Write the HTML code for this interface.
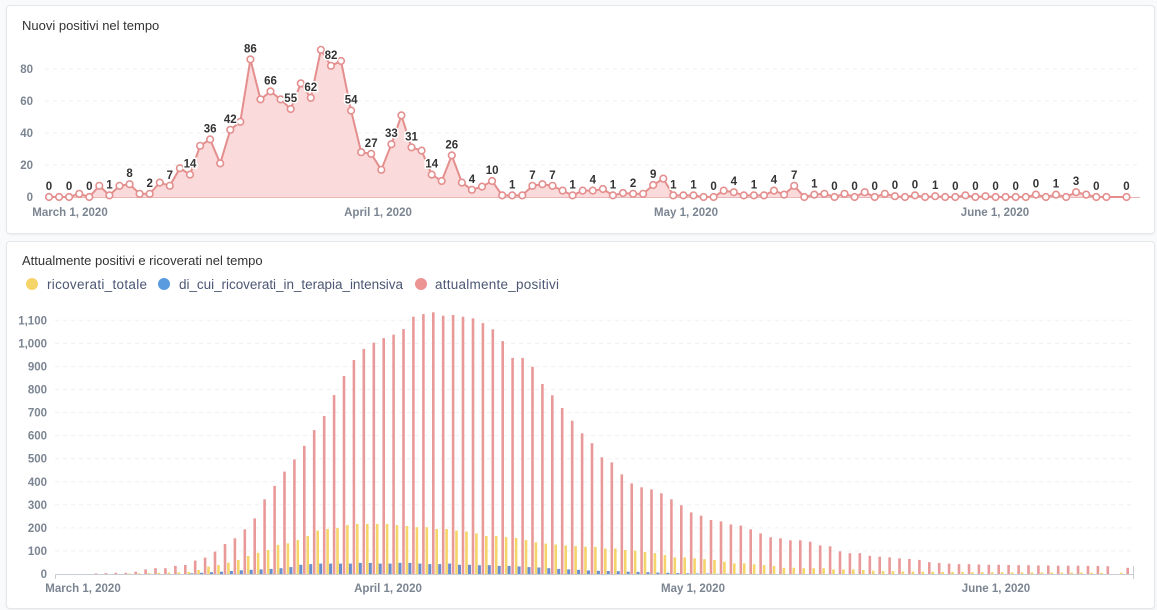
<!DOCTYPE html>
<html><head><meta charset="utf-8">
<style>
html,body{margin:0;padding:0;background:#f9fafb;}
body{width:1157px;height:610px;overflow:hidden;position:relative;font-family:"Liberation Sans",sans-serif;}
.card{position:absolute;background:#fff;border:1px solid #e4e7eb;border-radius:4px;box-shadow:0 1px 2px rgba(0,0,0,0.05);}
svg{position:absolute;left:0;top:0;}
</style></head><body>
<div class="card" style="left:6px;top:5px;width:1147px;height:227px"></div>
<div class="card" style="left:6px;top:241px;width:1147px;height:366px"></div>
<svg id="s" width="1157" height="610" xmlns="http://www.w3.org/2000/svg" font-family="Liberation Sans, sans-serif"></svg>
<script>
var s=document.getElementById('s'),h='';
function T(x,y,t,o){h+='<text x="'+x+'" y="'+y+'" '+(o||'')+'>'+t+'</text>';}
T(22,30,'Nuovi positivi nel tempo','font-size="13" fill="#333"');
[[0,197],[20,165],[40,133],[60,101],[80,69]].forEach(function(a){
 T(33,a[1]+4,a[0],'font-size="11.5" font-weight="bold" fill="#7b8592" text-anchor="end"');
 if(a[0]>0)h+='<line x1="45" x2="1140" y1="'+a[1]+'" y2="'+a[1]+'" stroke="#eef0f2" stroke-dasharray="4,4"/>';
});
var v=[0,0,0,2,0,7,1,7,8,2, 2,9,7,18,14,32,36,21,42,47, 86,61,66,61,55,71,62,92,82,85,
54,28,27,17,33,51,31,29,14,10, 26,9,4.5,6.5,10,1,1,1,7,8, 7,4,1,4,4,5,1,2.5,2,2,
7.5,11.5,1,1,1,0,0,4,3,1, 1,1,4,1.5,7,0,1.5,2,0,2, 0,3,0,2,0.5,0,1,0,0.5,0,
0,1,0,0.5,0,0,0,0,1.5,0, 1.5,0,3,1.5,0,0,null,0];
var L={0:0,2:0,4:0,6:1,8:8,10:2,12:7,14:14,16:36,18:42,20:86,22:66,24:55,26:62,28:82,30:54,32:27,34:33,36:31,38:14,40:26,42:4,44:10,46:1,48:7,50:7,52:1,54:4,56:1,58:2,60:9,62:1,64:1,66:0,68:4,70:1,72:4,74:7,76:1,78:0,80:0,82:0,84:0,86:0,88:1,90:0,92:0,94:0,96:0,98:0,100:1,102:3,104:0,107:0};
var pts=[];
v.forEach(function(d,i){if(d===null)return;pts.push([49+10.07*i,197-1.6*d,i]);});
var line=pts.map(function(p){return p[0].toFixed(1)+','+p[1].toFixed(1)}).join(' ');
h+='<polygon points="'+pts[0][0]+',197 '+line+' '+pts[pts.length-1][0].toFixed(1)+',197" fill="#f9d6d6" opacity="0.9"/>';
h+='<line x1="45" x2="1140" y1="197.5" y2="197.5" stroke="#e9b5b5"/>';
h+='<polyline points="'+line+'" fill="none" stroke="#e48e8e" stroke-width="2"/>';
pts.forEach(function(p){h+='<circle cx="'+p[0].toFixed(1)+'" cy="'+p[1].toFixed(1)+'" r="3.3" fill="#fff" stroke="#e48e8e" stroke-width="1.6"/>';});
pts.forEach(function(p){if(L[p[2]]!==undefined)T(p[0].toFixed(1),(p[1]-7).toFixed(1),L[p[2]],'font-size="11.5" font-weight="bold" fill="#333" text-anchor="middle" stroke="#fff" stroke-width="3" paint-order="stroke"');});
[[70,'March 1, 2020'],[378,'April 1, 2020'],[686,'May 1, 2020'],[995,'June 1, 2020']].forEach(function(a){T(a[0],216,a[1],'font-size="11.5" font-weight="bold" fill="#7b8592" text-anchor="middle"');});
T(22,265,'Attualmente positivi e ricoverati nel tempo','font-size="13" fill="#333"');
h+='<circle cx="32" cy="284" r="6" fill="#f5d46a"/><circle cx="164" cy="284" r="6" fill="#5a9be0"/><circle cx="421" cy="284" r="6" fill="#ec9494"/>';
T(47,289,'ricoverati_totale','font-size="13.5" fill="#4c5773" textLength="100"');
T(179,289,'di_cui_ricoverati_in_terapia_intensiva','font-size="13.5" fill="#4c5773" textLength="224"');
T(435,289,'attualmente_positivi','font-size="13.5" fill="#4c5773" textLength="124"');
for(var t=0;t<=1100;t+=100){var y=574-t*0.2306;
 T(47,y+4,t>=1000?('1,'+(t===1000?'000':'100')):t,'font-size="11.5" font-weight="bold" fill="#7b8592" text-anchor="end"');
 if(t>0)h+='<line x1="55" x2="1135" y1="'+y.toFixed(1)+'" y2="'+y.toFixed(1)+'" stroke="#eef0f2" stroke-dasharray="4,4"/>';}
var R=[3,4,5,5,10,20,25,25,35,39,58,71,97,130,155,194,241,324,382,444,497,556,624,685,776,859,928,976,1003,1023,1038,1062,1116,1127,1135,1120,1123,1116,1109,1088,1061,1010,937,937,899,824,775,720,665,610,
567,506,484,432,393,376,367,350,324,298,267,253,234,228,215,210,194,176,159,155,146,146,140,124,120,98,90,90,79,75,
72,68,65,61,51,48,45,43,43,41,40,40,39,38,38,37,37,36,36,36,35,35,34,0,27];
var Y=[0,0,0,0,2,3,4,5,6,7,9,17,32,39,49,61,78,92,104,126,133,147,165,188,195,199,212,217,217,217,217,212,208,203,203,195,195,188,184,176,165,165,160,156,147,137,132,128,124,121,
118,117,110,110,104,101,95,90,82,72,72,68,64,61,53,46,46,42,39,35,27,27,25,25,25,20,20,20,17,14,
12,12,11,11,10,10,9,9,9,8,8,8,8,7,7,7,7,6,6,6,6,5,5,0,5];
var B=[0,0,0,0,0,0,0,0,0,0,3,5,8,10,13,16,18,20,22,25,30,40,43,45,45,45,45,48,48,45,45,48,48,45,43,43,45,40,40,38,38,35,35,33,30,28,25,22,20,18,15,14,13,12,10,9,8,6,5,4,3,2,2,1,1,1];
for(var k=0;k<R.length;k++){var x=95+9.92*k;
 if(Y[k])h+='<rect x="'+(x-6.8).toFixed(1)+'" y="'+(574-Y[k]*0.2306).toFixed(1)+'" width="2.6" height="'+(Y[k]*0.2306).toFixed(1)+'" fill="#f5d46a"/>';
 if(B[k])h+='<rect x="'+(x-4).toFixed(1)+'" y="'+(574-B[k]*0.2306).toFixed(1)+'" width="3" height="'+(B[k]*0.2306).toFixed(1)+'" fill="#6a8fcc"/>';
 if(R[k])h+='<rect x="'+(x-0.3).toFixed(1)+'" y="'+(574-R[k]*0.2306).toFixed(1)+'" width="2.6" height="'+(R[k]*0.2306).toFixed(1)+'" fill="#ea9999"/>';}
h+='<line x1="55" x2="1133" y1="574.5" y2="574.5" stroke="#c9ced4"/><line x1="55.5" x2="55.5" y1="574" y2="579" stroke="#c9ced4"/><line x1="1133.5" x2="1133.5" y1="566" y2="579" stroke="#c9ced4"/>';
[[83,'March 1, 2020'],[388,'April 1, 2020'],[693,'May 1, 2020'],[996,'June 1, 2020']].forEach(function(a){T(a[0],592,a[1],'font-size="11.5" font-weight="bold" fill="#7b8592" text-anchor="middle"');});
s.innerHTML=h;
</script>
</body></html>
